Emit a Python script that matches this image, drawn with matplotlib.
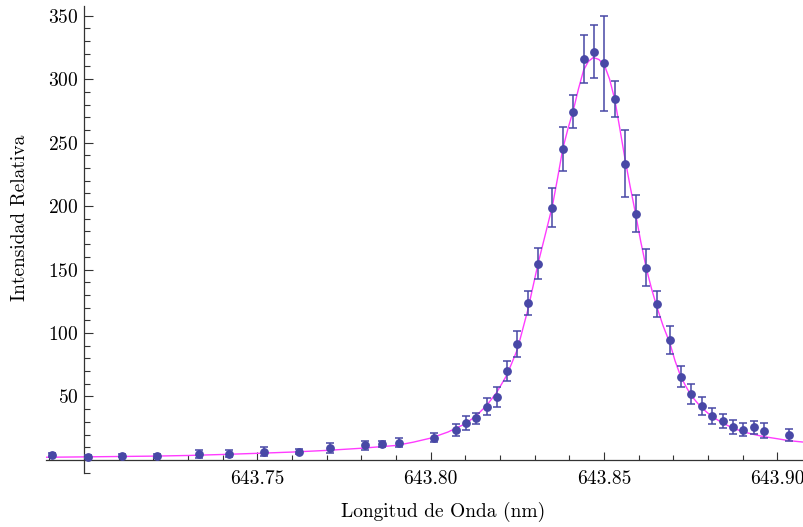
import matplotlib
matplotlib.use("Agg")
import matplotlib.pyplot as plt
from matplotlib.ticker import MultipleLocator, FixedLocator, FormatStrFormatter

plt.rcParams["font.family"] = "cmr10"
plt.rcParams["axes.formatter.use_mathtext"] = True

# datos medidos (longitud de onda en nm)
wl = [643.6907, 643.7010, 643.7110, 643.7210, 643.7330, 643.7419, 643.7520,
      643.7620, 643.7710, 643.7811, 643.7860, 643.7909, 643.8010, 643.8072,
      643.8101, 643.8131, 643.8161, 643.8191, 643.8220, 643.8250, 643.8280,
      643.8310, 643.8351, 643.8381, 643.8411, 643.8441, 643.8471, 643.8501,
      643.8531, 643.8560, 643.8591, 643.8622, 643.8652, 643.8690, 643.8721,
      643.8751, 643.8782, 643.8812, 643.8842, 643.8872, 643.8902, 643.8932,
      643.8961, 643.9033]
intensidad = [3.9, 2.6, 3.4, 3.2, 4.5, 5.0, 6.5,
              6.3, 9.7, 11.6, 12.6, 13.6, 17.6, 23.6,
              29.0, 32.8, 42.0, 49.6, 70.0, 91.3, 123.7,
              154.7, 198.6, 245.0, 274.4, 315.7, 321.7, 312.5,
              284.4, 233.4, 194.0, 151.5, 123.1, 94.7, 65.7,
              51.8, 42.6, 34.7, 30.5, 25.8, 23.7, 25.8,
              23.1, 19.7]
error = [1.5, 1.3, 1.3, 1.3, 3.0, 2.5, 3.3,
         2.0, 4.0, 3.7, 2.4, 3.7, 3.4, 4.6,
         5.3, 4.5, 6.8, 8.2, 8.2, 10.3, 9.5,
         12.2, 15.3, 17.0, 13.3, 18.9, 21.0, 37.4,
         14.4, 26.6, 14.5, 14.7, 10.3, 11.0, 8.2,
         8.0, 7.2, 6.6, 5.3, 5.3, 5.0, 5.0,
         6.1, 4.6]

# curva de ajuste
ajuste_wl = [643.689, 643.700, 643.710, 643.720, 643.730, 643.740, 643.750,
             643.760, 643.770, 643.780, 643.790, 643.795, 643.800, 643.805,
             643.810, 643.813, 643.816, 643.819, 643.822, 643.825, 643.828,
             643.831, 643.8331, 643.8351, 643.8366, 643.8381, 643.8396, 643.8411,
             643.8426, 643.8441, 643.8455, 643.8469, 643.8485, 643.8501, 643.8516,
             643.8531, 643.8545, 643.8560, 643.8575, 643.8591, 643.8606, 643.8622,
             643.8637, 643.8652, 643.8670, 643.8690, 643.8705, 643.8721, 643.8736,
             643.8751, 643.8766, 643.8782, 643.8810, 643.8840, 643.8870, 643.8900,
             643.8930, 643.8960, 643.9000, 643.9033, 643.9077]
ajuste_int = [2.1, 2.4, 2.7, 3.0, 3.5, 4.3, 5.2,
              6.2, 7.5, 9.2, 11.4, 14.0, 17.2, 22.0,
              28.5, 34.5, 42.5, 53.0, 67.0, 87.0, 118.0,
              155.0, 178.0, 200.0, 222.0, 245.0, 261.0, 275.0,
              292.0, 307.0, 314.0, 317.0, 315.5, 311.0, 300.0,
              284.0, 262.0, 238.0, 216.0, 194.0, 172.0, 151.0,
              135.0, 121.0, 106.0, 92.0, 78.0, 66.0, 58.0,
              51.0, 46.0, 41.0, 34.5, 29.4, 25.3, 22.3,
              20.2, 18.4, 16.7, 15.2, 14.0]

fig = plt.figure(figsize=(8.04, 5.27), dpi=100)
ax = fig.add_axes([46/804, 54/527, 758/804, 467/527])

ax.plot(ajuste_wl, ajuste_int, color="#ff3cff", lw=1.0, zorder=2)
ax.errorbar(wl, intensidad, yerr=error, fmt="o", color="#4848a6",
            ms=5.3, elinewidth=1.1, capsize=2.8, capthick=1.1, zorder=3)

ax.set_xlim(643.6890, 643.9077)
ax.set_ylim(-10.3, 357.6)

ax.spines["top"].set_visible(False)
ax.spines["right"].set_visible(False)
ax.spines["left"].set_position(("data", 643.70))
ax.spines["bottom"].set_position(("data", 0))
for s in ["left", "bottom"]:
    ax.spines[s].set_color("#333333")
    ax.spines[s].set_linewidth(0.9)

ax.xaxis.set_major_locator(FixedLocator([643.75, 643.80, 643.85, 643.90]))
ax.xaxis.set_minor_locator(MultipleLocator(0.01))
ax.xaxis.set_major_formatter(FormatStrFormatter("%.2f"))
ax.yaxis.set_major_locator(FixedLocator([50, 100, 150, 200, 250, 300, 350]))
ax.yaxis.set_minor_locator(MultipleLocator(10))

ax.tick_params(axis="x", which="major", direction="in", length=6, width=0.8,
               pad=7, labelsize=14, color="#333333")
ax.tick_params(axis="x", which="minor", direction="in", length=3.5, width=0.8,
               color="#333333")
ax.tick_params(axis="y", which="major", direction="in", length=6.5, width=0.8,
               pad=4, labelsize=14, color="#333333")
ax.tick_params(axis="y", which="minor", direction="in", length=4, width=0.8,
               color="#333333")

fig.text(443/804, 1 - 512/527, "Longitud de Onda (nm)", ha="center",
         va="center", fontsize=14)
fig.text(20/804, 1 - 218/527, "Intensidad Relativa", ha="center",
         va="center", rotation=90, fontsize=14)

fig.savefig("out.png", dpi=100)
